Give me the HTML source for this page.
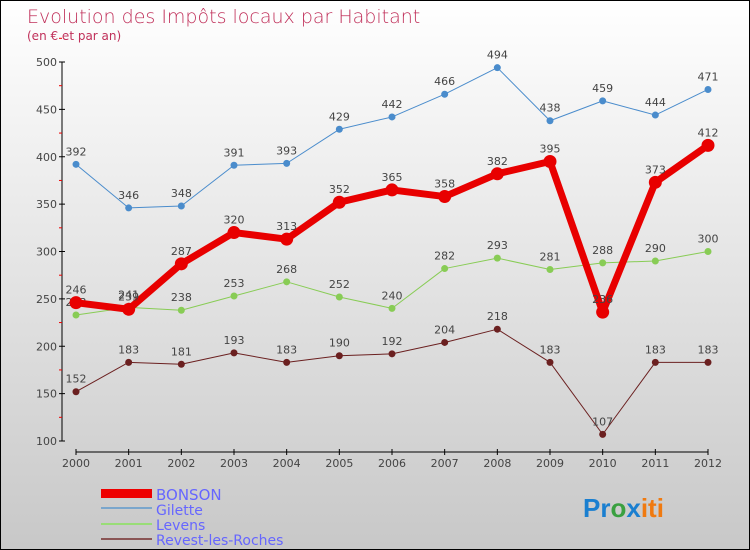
<!DOCTYPE html>
<html><head><meta charset="utf-8"><style>
body{margin:0}
#c{width:748px;height:548px;border:1px solid #000;background:linear-gradient(#fff,#c8c8c8);position:relative;font-family:"DejaVu Sans","Liberation Sans",sans-serif;overflow:hidden}
</style></head><body>
<div id="c">
<svg id="s" width="748" height="548">
<text x="26" y="22" font-size="19" fill="#c0305a" font-weight="200">Evolution des Impôts locaux par Habitant</text>
<text x="26" y="39" font-size="12" fill="#c0305a">(en € et par an)</text>
<g id="axes"></g><g id="series"></g>
<g>
<rect x="100" y="488" width="51" height="9" fill="#e00"/>
<text x="155" y="499" font-size="15" fill="#66f">BONSON</text>
<line x1="100" y1="507" x2="151" y2="507" stroke="#7aa6cc" stroke-width="2"/>
<text x="155" y="514" font-size="14" fill="#66f">Gilette</text>
<line x1="100" y1="523" x2="151" y2="523" stroke="#99dd77" stroke-width="2"/>
<text x="155" y="529" font-size="14" fill="#66f">Levens</text>
<line x1="100" y1="538" x2="151" y2="538" stroke="#8a5555" stroke-width="2"/>
<text x="155" y="544" font-size="14" fill="#66f">Revest-les-Roches</text>
</g>
<text x="582" y="516" font-size="26" font-weight="bold" font-family="Liberation Sans,sans-serif"><tspan fill="#1a7fd0">Pr</tspan><tspan fill="#3aa040">o</tspan><tspan fill="#1a7fd0">x</tspan><tspan fill="#f07a10">iti</tspan></text>
</svg></div>
<script>
const years=["2000","2001","2002","2003","2004","2005","2006","2007","2008","2009","2010","2011","2012"];
const yTicks=[100,150,200,250,300,350,400,450,500];
const bonson=[246,239,287,320,313,352,365,358,382,395,236,373,412];
const gilette=[392,346,348,391,393,429,442,466,494,438,459,444,471];
const levens=[233,241,238,253,268,252,240,282,293,281,288,290,300];
const revest=[152,183,181,193,183,190,192,204,218,183,107,183,183];
const NS="http://www.w3.org/2000/svg";
const xs=i=>75+i*(632/(years.length-1));
const ys=v=>440-(v-100)*(379/400);
function mk(t,a,p){const e=document.createElementNS(NS,t);for(const k in a)e.setAttribute(k,a[k]);p.appendChild(e);return e;}
const ax=document.getElementById('axes');
let l=mk('line',{x1:61,y1:ys(500),x2:61,y2:ys(100),stroke:'#000'},ax);


l=mk('line',{x1:75,y1:451,x2:707,y2:451,stroke:'#000'},ax);


yTicks.forEach(v=>{const y=ys(v);
 mk('line',{x1:58,y1:y,x2:64,y2:y,stroke:'#000'},ax);
 mk('line',{x1:58,y1:ys(v+25),x2:61,y2:ys(v+25),stroke:'#e00'},ax);
 const t=mk('text',{x:56,y:y+4,'font-size':11,fill:'#444','text-anchor':'end'},ax);t.textContent=v;
 
 });
years.forEach((yr,i)=>{const x=xs(i);
 mk('line',{x1:x,y1:448,x2:x,y2:454,stroke:'#000'},ax);
 const t=mk('text',{x:x,y:466,'font-size':11,fill:'#444','text-anchor':'middle'},ax);t.textContent=yr;
 
 });
const sg=document.getElementById('series');
function draw(data,color,w,r,name){
 const g=mk('g',{},sg);
 
 
 const p=mk('polyline',{points:data.map((v,i)=>xs(i)+','+ys(v)).join(' '),fill:'none',stroke:color,'stroke-width':w,'stroke-linejoin':'round'},g);
 
 
 data.forEach((v,i)=>{const c=mk('circle',{cx:xs(i),cy:ys(v),r:r,fill:color},g);
  
  
  const t=mk('text',{x:xs(i),y:ys(v)-9,'font-size':11,fill:'#444','text-anchor':'middle'},g);t.textContent=v;
  
  });
}
draw(gilette,'#4a8ccc',1,3.5,'gilette');
draw(levens,'#88cc55',1,3.5,'levens');
draw(revest,'#6b2020',1,3.5,'revest');
draw(bonson,'#e80000',7,6.5,'bonson');
</script>
</body></html>
